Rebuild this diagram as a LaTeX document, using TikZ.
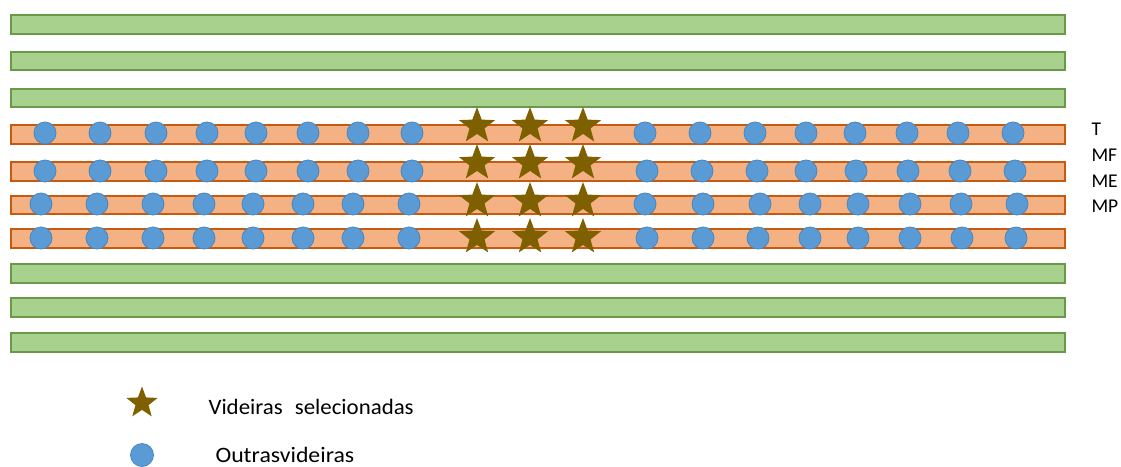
\documentclass[tikz,border=0pt]{standalone}
\usepackage{fontspec}
\setmainfont{Carlito}
\usetikzlibrary{shapes.geometric}

\definecolor{leafgreen}{HTML}{A9D18E}
\definecolor{leafline}{HTML}{6A994A}
\definecolor{rowfill}{HTML}{F4B183}
\definecolor{rowline}{HTML}{C55A11}
\definecolor{vineblue}{HTML}{5B9BD5}
\definecolor{vineline}{HTML}{4A86C0}
\definecolor{chosenbrown}{HTML}{7F6000}

\begin{document}
\begin{tikzpicture}[x=1pt,y=-1pt,
  greenrow/.style={draw=leafline, fill=leafgreen, line width=1.5pt},
  orangerow/.style={draw=rowline, fill=rowfill, line width=1.5pt},
  vine/.style={circle, fill=vineblue, draw=vineline, line width=0.8pt, minimum size=22pt, inner sep=0pt},
  chosen/.style={star, star points=5, star point ratio=2.4, fill=chosenbrown, draw=none, minimum size=38pt, inner sep=0pt},
  rowlabel/.style={anchor=west, font=\fontsize{19.5}{21}\selectfont},
  keytext/.style={anchor=base west, font=\fontsize{22}{24}\selectfont}]

  \useasboundingbox (0,0) rectangle (1121,466);

  % outer rows
  \foreach \ya/\yb in {15/34,52/70,89/107,264/283,298/317,333/352} {
    \draw [greenrow] (11,\ya) rectangle (1065,\yb);
  };
  % sampled rows
  \foreach \ya/\yb in {125/144,162/181,196/214,229/248} {
    \draw [orangerow] (11,\ya) rectangle (1065,\yb);
  };

  % other vines
  \foreach \x [count=\i] in {45,100,156,207,256,308,358,412,645,700,755,806,855,907,958,1013}
    \node [vine] (t\i) at (\x,133) {};
  \foreach \x [count=\i] in {45,100,156,207,256,308,358,412,647,702,757,806,856,908,960,1015}
    \node [vine] (mf\i) at (\x,171) {};
  \foreach \x [count=\i] in {41,97,153,204,253,303,353,409,645,703,760,810,858,910,961,1017}
    \node [vine] (me\i) at (\x,204) {};
  \foreach \x [count=\i] in {41,97,153,204,253,303,353,409,647,703,758,810,858,910,962,1016}
    \node [vine] (mp\i) at (\x,238) {};

  % selected vines
  \foreach \r/\y in {t/126,mf/163,me/201,mp/237} {
    \foreach \x [count=\i] in {477,530,583}
      \node [chosen] (s\r\i) at (\x,\y) {};
  };

  \node [rowlabel] (labT) at (1088,129) {T};
  \node [rowlabel] (labMF) at (1088,155) {MF};
  \node [rowlabel] (labME) at (1088,181) {ME};
  \node [rowlabel] (labMP) at (1088,206) {MP};

  % legend
  \node [chosen, minimum size=33pt] (keystar) at (142,403) {};
  \node [keytext] (keystartext) at (205,414) {\scalebox{1.04}[1]{Videiras\hspace{0.3em} selecionadas}};
  \node [vine, minimum size=23pt] (keyvine) at (142,455) {};
  \node [keytext] (keyvinetext) at (212,462) {\scalebox{1.08}[1]{Outrasvideiras}};

\end{tikzpicture}
\end{document}
